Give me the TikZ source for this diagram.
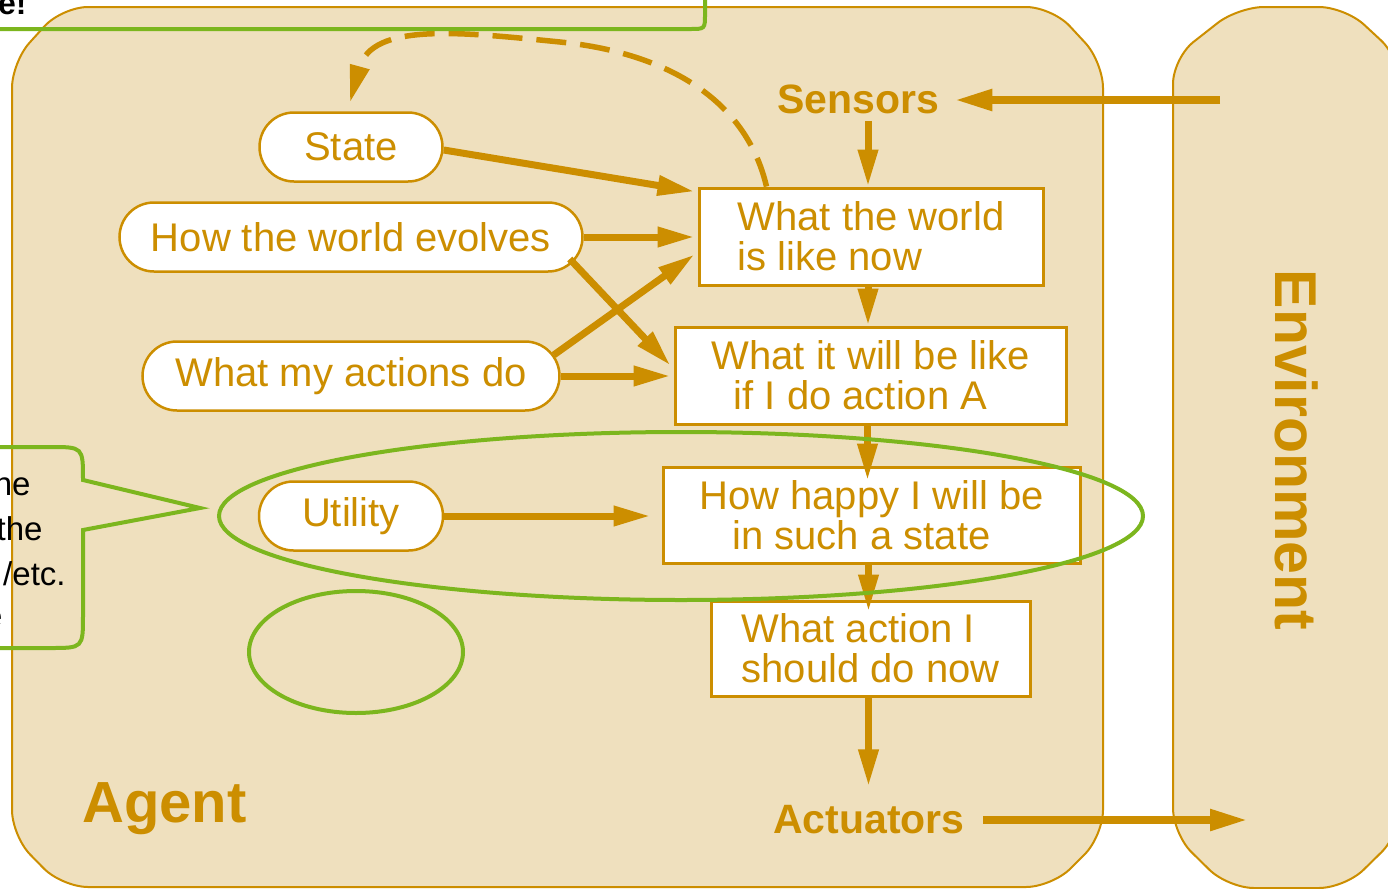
\documentclass[tikz,border=0pt]{standalone}
\usepackage{fontspec}
\setmainfont{Liberation Sans}
\usetikzlibrary{arrows.meta,calc}
\definecolor{agentfill}{RGB}{239,224,190}
\definecolor{gold}{RGB}{204,142,0}
\definecolor{callgreen}{RGB}{124,182,30}

\begin{document}
\begin{tikzpicture}[x=0.5pt,y=-0.5pt,
  lbl/.style={font=\fontsize{20pt}{20pt}\selectfont, text=gold},
  pill/.style={lbl, rectangle, rounded corners=17.25pt, draw=gold, line width=1.25pt,
    fill=white, minimum height=34.5pt, inner sep=0pt},
  panel/.style={lbl, rectangle, draw=gold, line width=1.5pt, fill=white, inner sep=0pt},
  port/.style={font=\bfseries\fontsize{20.5pt}{20.5pt}\selectfont, text=gold, inner sep=0pt, anchor=base},
  flow/.style={draw=gold, line width=3.5pt, -{Triangle[length=18.5pt,width=9.5pt]}},
  bigflow/.style={draw=gold, line width=4pt, -{Triangle[length=19pt,width=10pt]}},
  region/.style={draw=gold, line width=1pt, fill=agentfill, rounded corners=13pt},
  callout/.style={draw=callgreen, line width=2pt},
  calltext/.style={font=\fontsize{16.5pt}{16.5pt}\selectfont, text=black, inner sep=0pt, anchor=base east}
]
\useasboundingbox (0,0) rectangle (1388,889);
\fill[white] (0,0) rectangle (1388,889);
\clip (0,0) rectangle (1388,889);

% agent and environment panels
\draw[region] (12,450) -- (12,836) -- (62,887) -- (1052,887) -- (1103,836) -- (1103,62)
  -- (1052,7) -- (62,7) -- (12,62) -- cycle;
\draw[region] (1173,450) -- (1173,834) -- (1228,888) -- (1345,888) -- (1400,834) -- (1400,58)
  -- (1345,7) -- (1238,7) -- (1173,58) -- cycle;

\node[font=\bfseries\fontsize{29pt}{29pt}\selectfont, text=gold, inner sep=0pt, anchor=base west]
  (agent) at (82,822) {Agent};
\node[font=\bfseries\fontsize{29.5pt}{29.5pt}\selectfont, text=gold, inner sep=0pt, rotate=-90]
  (env) at (1297,450) {Environment};

% knowledge pills
\node[pill, minimum width=91.5pt] (state) at (351,147) {State};
\node[pill, minimum width=231.5pt] (htwe) at (351,237) {How the world evolves};
\node[pill, minimum width=208.5pt] (wmad) at (351,376) {What my actions do};
\node[pill, minimum width=92pt] (utility) at (351,516) {Utility};

% reasoning chain
\node[panel, minimum width=172pt, minimum height=48.5pt, align=left] (w1) at (871,236.5)
  {What the world\\is like now};
\node[panel, minimum width=195.5pt, minimum height=48.5pt, align=center] (w2) at (870.5,375.5)
  {What it will be like\\if I do action A\hspace*{10pt}\mbox{}};
\node[panel, minimum width=208.5pt, minimum height=48pt, align=center] (w3) at (871.5,515)
  {How happy I will be\\in such a state\hspace*{10pt}\mbox{}};
\node[panel, minimum width=159.5pt, minimum height=47.5pt, align=left] (w4) at (870.5,648.5)
  {What action I\\should do now};

\node[port] (sensors) at (858,113) {Sensors};
\node[port] (actuators) at (869,833) {Actuators};

\coordinate (envin) at (1220,100);
\coordinate (envout) at (1248,820);

% connectors
\draw[bigflow] (envin) -- ($(sensors.east |- envin)+(15,0)$);
\draw[flow] ($(sensors.south)+(10,7)$) -- ($(w1.north)+(-3,0)$);
\draw[flow] ($(state.east)+(0,3)$) -- ($(w1.north west)+(-3,5)$);
\draw[flow] (htwe.east) -- ($(w1.west |- htwe.east)+(-3,0)$);
\draw[flow] ($(htwe.east)+(-14,22)$) -- ($(w2.west)+(-3,-10)$);
\draw[flow] ($(wmad.east)+(-7,-21)$) -- ($(w1.west)+(-3,18)$);
\draw[flow] (wmad.east) -- ($(w2.west |- wmad.east)+(-3,0)$);
\draw[flow] ($(w1.south)+(-3,0)$) -- ($(w1.south |- w2.north)+(-3,0)$);
\draw[flow] ($(w2.south)+(-3,0)$) -- ($(w2.south |- w3.north)+(-3,15)$);
\draw[flow] (utility.east) -- ($(w3.west |- utility.east)+(-11,0)$);
\draw[flow] ($(w3.south)+(-3,0)$) -- ($(w3.south |- w4.north)+(-3,12)$);
\draw[flow] ($(w4.south)+(-2,0)$) -- ($(w4.south |- actuators.north)+(-2,-18)$);
\draw[bigflow] ($(actuators.east |- envout)+(18,0)$) -- (envout);
\draw[flow, line width=2.75pt, dash pattern=on 15pt off 7pt]
  ($(w1.north west)+(69,0)$) .. controls (745,95) and (660,52) .. (560,42)
  .. controls (460,32) and (372,22) .. ($(state.north)+(-1,-9)$);

% annotations
\draw[callout] (-10,29) -- (690,29) .. controls (705,29) .. (705,14) -- (705,-10);
\node[font=\bfseries\fontsize{16pt}{16pt}\selectfont, text=black, inner sep=0pt, anchor=base east]
  (exclaim) at (27,14) {e!};
\draw[callout] (-10,447) -- (50,447) .. controls (83,447) .. (83,480) -- (200,508) -- (83,530)
  -- (83,615) .. controls (83,648) .. (50,648) -- (-10,648);
\node[calltext] (n1) at (31,495) {he};
\node[calltext] (n2) at (43,540) {the};
\node[calltext] (n3) at (66,585) {/etc.};
\node[calltext] (n4) at (3,627) {e};
\draw[callout] (681,516) ellipse [x radius=462, y radius=84];
\draw[callout] (356,652) ellipse [x radius=107, y radius=61];
\end{tikzpicture}
\end{document}
